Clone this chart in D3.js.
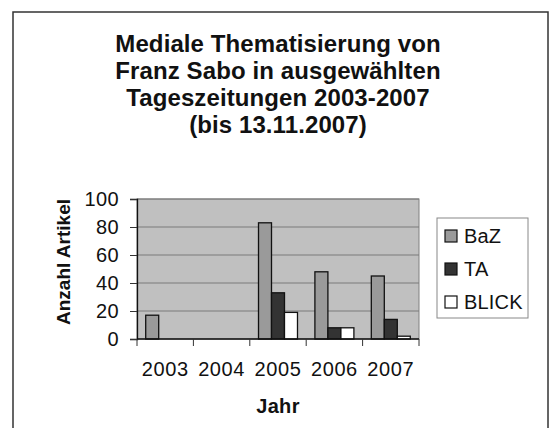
<!DOCTYPE html>
<html>
<head>
<meta charset="utf-8">
<script src="https://cdn.jsdelivr.net/npm/d3@7"></script>
<style>
  body { margin: 0; background: #fff; }
  text { font-family: "Liberation Sans", Arial, sans-serif; fill: #111; }
</style>
</head>
<body>
<script>
// data
const years = ["2003", "2004", "2005", "2006", "2007"];
const series = ["BaZ", "TA", "BLICK"];
const baz = [17, 0, 83, 48, 45];
const ta = [0, 0, 33, 8, 14];
const blick = [0, 0, 19, 8, 2];
const yTicks = [0, 20, 40, 60, 80, 100];
const titleLines = ["Mediale Thematisierung von", "Franz Sabo in ausgewählten", "Tageszeitungen 2003-2007", "(bis 13.11.2007)"];

const colors = { BaZ: "#9a9a9a", TA: "#333333", BLICK: "#ffffff" };
const values = { BaZ: baz, TA: ta, BLICK: blick };

const W = 553, H = 428;
const plot = { left: 137, right: 419, top: 199, bottom: 339 };

const svg = d3.select("body").append("svg")
  .attr("width", W)
  .attr("height", H);

// outer frame (runs off the bottom like the scan)
svg.append("rect")
  .attr("x", 13).attr("y", 12)
  .attr("width", 535).attr("height", 440)
  .attr("fill", "#fff")
  .attr("stroke", "#333")
  .attr("stroke-width", 1.5);

// title
svg.append("text")
  .attr("x", 278)
  .attr("text-anchor", "middle")
  .style("font-weight", "bold")
  .style("font-size", "24px")
  .style("letter-spacing", "0.1px")
  .selectAll("tspan")
  .data(titleLines)
  .join("tspan")
  .attr("x", 278)
  .attr("y", (d, i) => 52 + i * 27)
  .text(d => d);

const x = d3.scaleBand().domain(years).range([plot.left, plot.right]).padding(0);
const xSub = d3.scaleBand().domain(series).range([0, x.bandwidth()]).paddingInner(0).paddingOuter(0.67);
const y = d3.scaleLinear().domain([0, 100]).range([plot.bottom, plot.top]);

// plot background
svg.append("rect")
  .attr("x", plot.left).attr("y", plot.top)
  .attr("width", plot.right - plot.left).attr("height", plot.bottom - plot.top)
  .attr("fill", "#c0c0c0")
  .attr("stroke", "#808080")
  .attr("stroke-width", 1);

// gridlines
svg.append("g")
  .selectAll("line")
  .data(yTicks.filter(d => d > 0))
  .join("line")
  .attr("x1", plot.left).attr("x2", plot.right)
  .attr("y1", d => y(d)).attr("y2", d => y(d))
  .attr("stroke", "#7a7a7a")
  .attr("stroke-width", 1);

// bars
const rows = [];
years.forEach((yr, i) => series.forEach(s => rows.push({ yr, s, v: values[s][i] })));

svg.append("g")
  .selectAll("rect")
  .data(rows.filter(d => d.v > 0))
  .join("rect")
  .attr("x", d => x(d.yr) + xSub(d.s))
  .attr("y", d => y(d.v))
  .attr("width", xSub.bandwidth())
  .attr("height", d => y(0) - y(d.v))
  .attr("fill", d => colors[d.s])
  .attr("stroke", "#111")
  .attr("stroke-width", 1.3);

// y axis
const yAxis = svg.append("g")
  .attr("transform", `translate(${plot.left},0)`)
  .call(d3.axisLeft(y).tickValues(yTicks).tickSize(7).tickPadding(11));
yAxis.select(".domain").attr("stroke", "#111").attr("stroke-width", 1.3);
yAxis.selectAll(".tick line").attr("stroke", "#333");
yAxis.selectAll(".tick text")
  .style("font-size", "20px")
  .style("letter-spacing", "0.4px")
  .attr("fill", "#111");

// x axis: baseline, ticks between categories, labels at centres
const xg = svg.append("g");
xg.append("line")
  .attr("x1", plot.left).attr("x2", plot.right)
  .attr("y1", plot.bottom).attr("y2", plot.bottom)
  .attr("stroke", "#111").attr("stroke-width", 1.3);
xg.selectAll(".xt")
  .data(years.map(d => x(d)).concat([plot.right]))
  .join("line")
  .attr("class", "xt")
  .attr("x1", d => d).attr("x2", d => d)
  .attr("y1", plot.bottom).attr("y2", plot.bottom + 7)
  .attr("stroke", "#333");
xg.selectAll("text")
  .data(years)
  .join("text")
  .attr("x", d => x(d) + x.bandwidth() / 2)
  .attr("y", 376)
  .attr("text-anchor", "middle")
  .style("font-size", "20px")
  .style("letter-spacing", "0.6px")
  .text(d => d);

// axis titles
svg.append("text")
  .attr("x", 278).attr("y", 413)
  .attr("text-anchor", "middle")
  .style("font-weight", "bold")
  .style("font-size", "20px")
  .style("letter-spacing", "0.3px")
  .text("Jahr");

svg.append("text")
  .attr("transform", "translate(70,262) rotate(-90)")
  .attr("text-anchor", "middle")
  .style("font-weight", "bold")
  .style("font-size", "19px")
  .text("Anzahl Artikel");

// legend
const lg = svg.append("g");
lg.append("rect")
  .attr("x", 437).attr("y", 218)
  .attr("width", 91).attr("height", 100)
  .attr("fill", "#fff")
  .attr("stroke", "#888");
const li = lg.selectAll(".li")
  .data(series)
  .join("g")
  .attr("class", "li")
  .attr("transform", (d, i) => `translate(445,${236 + i * 33})`);
li.append("rect")
  .attr("x", 0).attr("y", -6)
  .attr("width", 12).attr("height", 12)
  .attr("fill", d => colors[d])
  .attr("stroke", "#111")
  .attr("stroke-width", 1.2);
li.append("text")
  .attr("x", 19).attr("y", 7)
  .style("font-size", "20px")
  .style("letter-spacing", "0.2px")
  .text(d => d);
</script>
</body>
</html>
